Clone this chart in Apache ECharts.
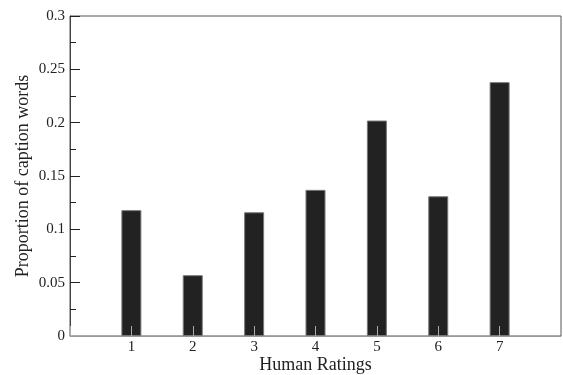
<!DOCTYPE html>
<html>
<head>
<meta charset="utf-8">
<script src="https://cdn.jsdelivr.net/npm/echarts@6/dist/echarts.min.js"></script>
<style>html,body{margin:0;padding:0;background:#fff;}#c{width:563px;height:375px;}</style>
</head>
<body>
<div id="c"></div>
<script>
var ratings = [1, 2, 3, 4, 5, 6, 7];
var proportions = [0.118, 0.057, 0.116, 0.137, 0.202, 0.131, 0.238];
var xTitle = 'Human Ratings';
var yTitle = 'Proportion of caption words';

var font = '"Liberation Serif", "DejaVu Serif", serif';
var chart = echarts.init(document.getElementById('c'), null, {renderer: 'canvas'});
chart.setOption({
  animation: false,
  backgroundColor: '#fff',
  grid: {left: 70, right: 2, top: 16, bottom: 39, show: true, borderColor: '#555', borderWidth: 1,
         backgroundColor: 'transparent', outerBoundsMode: 'none', containLabel: false},
  xAxis: {
    type: 'value', min: 0, max: 8, interval: 1, z: 5,
    name: xTitle, nameLocation: 'middle', nameGap: 20, nameMoveOverlap: false,
    nameTextStyle: {fontFamily: font, fontSize: 18, color: '#222'},
    axisLine: {show: true, lineStyle: {color: '#999', width: 1}},
    axisTick: {show: true, inside: true, length: 10, lineStyle: {color: '#aaa'}},
    axisLabel: {fontFamily: font, fontSize: 15, color: '#222', margin: 4,
      formatter: function (v) { return ratings.indexOf(v) >= 0 ? String(v) : ''; }},
    splitLine: {show: false}
  },
  yAxis: {
    type: 'value', min: 0, max: 0.3, interval: 0.05,
    name: yTitle, nameLocation: 'middle', nameGap: 38, nameMoveOverlap: false,
    nameTextStyle: {fontFamily: font, fontSize: 18, color: '#222'},
    axisLine: {show: true, lineStyle: {color: '#444', width: 1}},
    axisTick: {show: true, inside: true, length: 10, lineStyle: {color: '#222'}},
    minorTick: {show: true, splitNumber: 2, length: 6, lineStyle: {color: '#222'}},
    axisLabel: {fontFamily: font, fontSize: 15, color: '#222', margin: 5},
    splitLine: {show: false}
  },
  series: [{
    type: 'bar',
    data: ratings.map(function (r, i) { return [r, proportions[i]]; }),
    barWidth: 20,
    itemStyle: {color: '#222', borderColor: '#777', borderWidth: 1}
  }]
});
</script>
</body>
</html>
